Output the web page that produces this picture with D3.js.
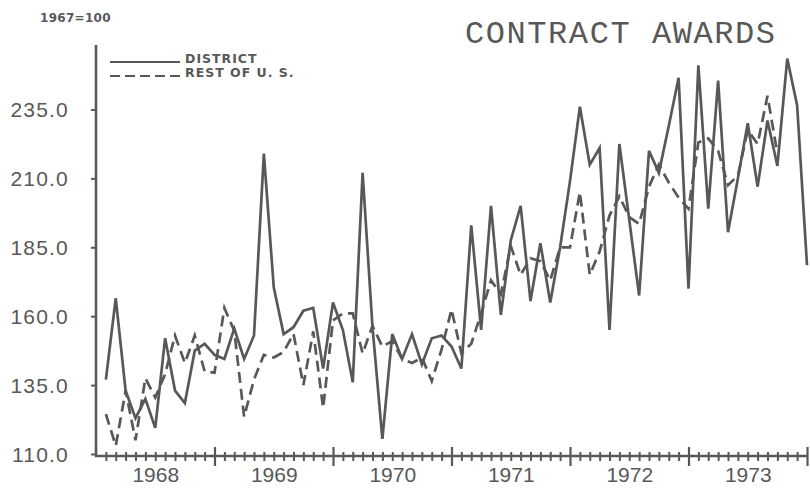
<!DOCTYPE html>
<html><head><meta charset="utf-8">
<script src="https://cdn.jsdelivr.net/npm/d3@7"></script>
<style>
html,body{margin:0;padding:0;background:#fff;}
svg{display:block;}
</style></head>
<body>
<svg id="chart" width="810" height="495"></svg>
<script>
// Monthly index, 1967=100; month 1 = Jan 1968 ... month 72 = Dec 1973
const monthIndex = d3.range(1, 73);
const district = [137,166.5,133,123,130,119.5,152,133,128.5,147.5,150,146,
  144.5,155.5,144.5,153,219,170.5,153.5,156,162,163,141,165,
  155,136,212,156,115.5,153.5,144.5,153.5,142.5,152,153,149,
  141,193,155,200,160.5,187.5,200,165.5,186.5,165,185,209,
  236,215,221,155,222.5,195,167.5,220,212,229,246.5,170,
  251,199,245.5,190.5,210,230,207,231,214.5,253.5,236.5,178.5];
const restMonths = d3.range(1, 70);
const restOfUS = [124.5,113,133,115,137.5,130.5,139,153,143,153,140,139.5,
  163,154.7,123.5,137,146,145,147,153.6,135,154.5,126.7,158.5,
  161,161,146.5,156.5,149,151,144.5,143,145,136.5,148,162.5,
  146.5,150,161,173,168,185.5,175,181,180,173,185,185,
  205,175,183.5,196.5,203.5,196,193.5,207,215,208.5,203,199,
  223,224.5,220,207.5,211,227.5,222.5,240,219];
const yearLabels = ["1968","1969","1970","1971","1972","1973"];
const yTickValues = [110,135,160,185,210,235];
const seriesNames = ["DISTRICT","REST OF U. S."];

const col = "#585858";
const svg = d3.select("#chart");
const x = d3.scaleLinear().domain([0,72]).range([96,807]);
const y = d3.scaleLinear().domain([110,235]).range([454,109.5]);

// lines
const lineGen = d3.line().curve(d3.curveLinear);
const distPts = monthIndex.map((m,i)=>[x(m), y(district[i])]);
const restPts = restMonths.map((m,i)=>[x(m), y(restOfUS[i])]);
svg.append("path").attr("d", lineGen(restPts)).attr("fill","none")
  .attr("stroke",col).attr("stroke-width",2.7).attr("stroke-dasharray","11,6")
  .attr("stroke-linejoin","miter");
svg.append("path").attr("d", lineGen(distPts)).attr("fill","none")
  .attr("stroke",col).attr("stroke-width",2.7).attr("stroke-linejoin","miter");

// y axis
const yAxis = d3.axisLeft(y).tickValues(yTickValues).tickSize(5).tickPadding(22)
  .tickFormat(d3.format(".1f"));
const gy = svg.append("g").attr("transform","translate(96,0)").call(yAxis);
gy.select(".domain").remove();
gy.selectAll("line").attr("stroke",col).attr("stroke-width",2);
gy.selectAll("text").attr("fill",col).attr("font-family","Liberation Sans, Arial, sans-serif")
  .attr("font-size",21).attr("letter-spacing",1.2).attr("dy","0.35em");
svg.append("line").attr("x1",96).attr("x2",96).attr("y1",45).attr("y2",457)
  .attr("stroke",col).attr("stroke-width",2.6);

// x axis baseline
svg.append("line").attr("x1",95).attr("x2",808).attr("y1",456).attr("y2",456)
  .attr("stroke",col).attr("stroke-width",2.6);
// minor ticks
const gMinor = svg.append("g").attr("transform","translate(0,456)")
  .call(d3.axisBottom(x).tickValues(d3.range(1,72).filter(d=>d%12!==0)).tickSize(4).tickFormat(""));
gMinor.select(".domain").remove();
gMinor.selectAll("line").attr("y1",-4).attr("y2",5).attr("stroke",col).attr("stroke-width",2);
// major ticks
const gMajor = svg.append("g").attr("transform","translate(0,456)")
  .call(d3.axisBottom(x).tickValues([12,24,36,48,60,72]).tickSize(10).tickFormat(""));
gMajor.select(".domain").remove();
gMajor.selectAll("line").attr("y1",-9).attr("y2",10).attr("stroke",col).attr("stroke-width",2.2);
// year labels
const gLab = svg.append("g").attr("transform","translate(0,456)")
  .call(d3.axisBottom(x).tickValues([6,18,30,42,54,66]).tickSize(0).tickPadding(10)
    .tickFormat((d,i)=>yearLabels[i]));
gLab.select(".domain").remove();
gLab.selectAll("text").attr("fill",col).attr("font-family","Liberation Sans, Arial, sans-serif")
  .attr("font-size",21).attr("dy","0.75em");

// title & note
svg.append("text").attr("x",465).attr("y",43).attr("textLength",310).attr("lengthAdjust","spacing")
  .attr("fill",col)
  .attr("font-family","Liberation Mono, DejaVu Sans Mono, monospace").attr("font-size",32)
  .text("CONTRACT AWARDS");
svg.append("text").attr("x",40).attr("y",22).attr("fill",col)
  .attr("font-family","DejaVu Sans, sans-serif").attr("font-weight","bold").attr("font-size",12)
  .attr("letter-spacing",0.3).text("1967=100");

// legend
const leg = svg.append("g");
[0,1].forEach(i=>{
  const yy = 62 + i*14;
  leg.append("line").attr("x1",110).attr("x2",180).attr("y1",yy).attr("y2",yy)
    .attr("stroke",col).attr("stroke-width",2)
    .attr("stroke-dasharray", i===1 ? "10,5" : null);
  leg.append("text").attr("x",185).attr("y",yy+1).attr("fill",col)
    .attr("font-family","DejaVu Sans, sans-serif").attr("font-weight","bold").attr("font-size",12.5)
    .attr("letter-spacing",1).text(seriesNames[i]);
});
</script>
</body></html>
